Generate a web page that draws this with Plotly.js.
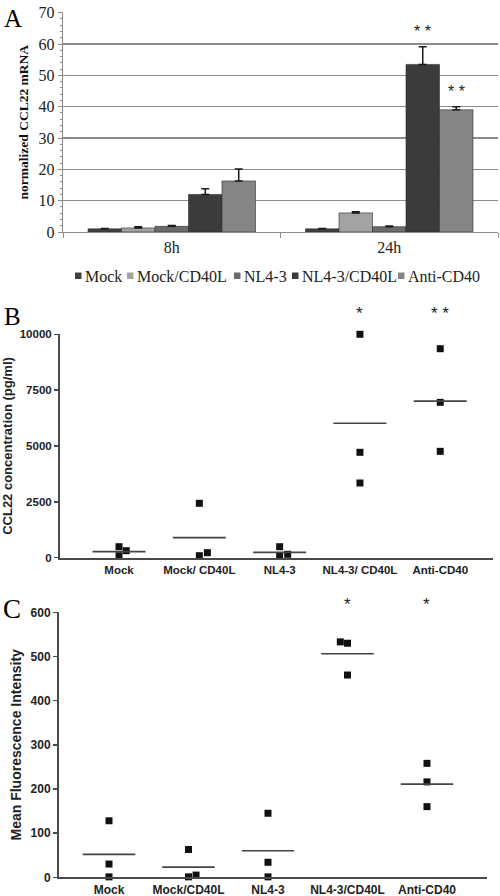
<!DOCTYPE html>
<html>
<head>
<meta charset="utf-8">
<script src="https://cdn.plot.ly/plotly-3.0.1.min.js"></script>
<style>html,body{margin:0;padding:0;background:#fff;}#chart{width:500px;height:896px;}</style>
</head>
<body>
<div id="chart"></div>
<script>
// ---------- DATA ----------
const groups = ['Mock', 'Mock/CD40L', 'NL4-3', 'NL4-3/CD40L', 'Anti-CD40'];
const timepoints = ['8h', '24h'];

// Panel A: normalized CCL22 mRNA (mean, +error) per group at 8h and 24h
const mrna8h  = [1.0, 1.3, 1.8, 12.0, 16.3];
const err8h   = [0.15, 0.4, 0.3, 1.8, 3.8];
const mrna24h = [1.0, 6.1, 1.7, 53.5, 39.0];
const err24h  = [0.1, 0.4, 0.2, 5.6, 1.0];
const sig24h  = ['', '', '', '**', '**'];

// Panel B: CCL22 concentration (pg/ml), three donors per group, plus mean line
const ccl22Points = [
  [492, 90, 313],
  [2435, 90, 224],
  [492, 76, 152],
  [10000, 4718, 3344],
  [9355, 6955, 4762]
];
const ccl22Means = [270, 900, 240, 6015, 7010];
const ccl22Ticks = [0, 2500, 5000, 7500, 10000];
const sigB = ['', '', '', '*', '**'];

// Panel C: Mean fluorescence intensity, three donors per group, plus mean line
const mfiPoints = [
  [128, 30, 1],
  [63, 1, 5],
  [145, 34, 1],
  [533, 530, 458],
  [258, 216, 160]
];
const mfiMeans = [52, 23, 60, 506, 211];
const mfiTicks = [0, 100, 200, 300, 400, 500, 600];
const sigC = ['', '', '', '*', '*'];

// ---------- LAYOUT HELPERS ----------
const W = 500, H = 896;
const px = x => x / W;
const py = y => 1 - y / H;

const barColors = ['#404040', '#a3a3a3', '#6b6b6b', '#3b3b3b', '#858585'];
const serif = 'Liberation Serif, Times New Roman, serif';
const sans = 'Liberation Sans, Arial, sans-serif';
const bold = s => '<b>' + s + '</b>';

// small horizontal jitter of overlapping dots (fraction of category spacing)
const jitterB = [[0, 0, 0.09], [0, 0, 0.1], [0, 0, 0.1], [0, 0, 0], [0, 0, 0]];
const jitterC = [[0, 0, 0], [0, 0, 0.095], [0, 0, 0], [-0.09, 0, 0], [0, 0, 0]];

const traces = [];
// Panel A bars
groups.forEach((g, i) => {
  traces.push({
    type: 'bar', name: g, x: timepoints, y: [mrna8h[i], mrna24h[i]],
    xaxis: 'x', yaxis: 'y',
    marker: {color: barColors[i], line: {color: '#2e2e2e', width: 0.6}},
    error_y: {type: 'data', symmetric: false, array: [err8h[i], err24h[i]], arrayminus: [0, 0],
              color: '#1a1a1a', thickness: 1.5, width: 4},
    showlegend: false, cliponaxis: false
  });
});

function dotTraces(points, means, jitter, xa, ya) {
  const xs = [], ys = [];
  points.forEach((pts, i) => pts.forEach((v, k) => { xs.push(i + jitter[i][k]); ys.push(v); }));
  traces.push({type: 'scatter', mode: 'markers', x: xs, y: ys, xaxis: xa, yaxis: ya,
    marker: {symbol: 'square', size: 7, color: '#111'}, showlegend: false, cliponaxis: false});
  const lx = [], ly = [];
  means.forEach((m, i) => { lx.push(i - 0.33, i + 0.33, null); ly.push(m, m, null); });
  traces.push({type: 'scatter', mode: 'lines', x: lx, y: ly, xaxis: xa, yaxis: ya,
    line: {color: '#444', width: 1.6}, showlegend: false, cliponaxis: false});
}
dotTraces(ccl22Points, ccl22Means, jitterB, 'x2', 'y2');
dotTraces(mfiPoints, mfiMeans, jitterC, 'x3', 'y3');

// ---------- ANNOTATIONS ----------
const ann = [];
ann.push({xref: 'paper', yref: 'paper', x: px(2), y: py(3), xanchor: 'left', yanchor: 'top',
  text: 'A', showarrow: false, font: {family: serif, size: 25, color: '#000'}});
ann.push({xref: 'paper', yref: 'paper', x: px(2), y: py(301), xanchor: 'left', yanchor: 'top',
  text: 'B', showarrow: false, font: {family: serif, size: 25, color: '#000'}});
ann.push({xref: 'paper', yref: 'paper', x: px(1), y: py(592), xanchor: 'left', yanchor: 'top',
  text: 'C', showarrow: false, font: {family: serif, size: 27, color: '#000'}});

// significance stars
sig24h.forEach((s, i) => {
  if (!s) return;
  const off = (i - 2) * 0.154;
  ann.push({xref: 'x', yref: 'y', x: 1 + off, y: mrna24h[i] + err24h[i] + 5, yanchor: 'middle',
    text: s.split('').join(' '), showarrow: false, font: {family: sans, size: 16, color: '#222'}});
});
sigB.forEach((s, i) => {
  if (!s) return;
  ann.push({xref: 'x2', yref: 'paper', x: i, y: py(313), yanchor: 'middle',
    text: s.split('').join(' '), showarrow: false, font: {family: sans, size: 17, color: '#222'}});
});
sigC.forEach((s, i) => {
  if (!s) return;
  ann.push({xref: 'x3', yref: 'paper', x: i, y: py(604), yanchor: 'middle',
    text: s, showarrow: false, font: {family: sans, size: 17, color: '#222'}});
});

// legend for panel A (squares + labels)
const legX = [75, 127, 234, 292, 398];
const shapes = [];
groups.forEach((g, i) => {
  shapes.push({type: 'rect', xref: 'paper', yref: 'paper', x0: px(legX[i]), x1: px(legX[i] + 6.5),
    y0: py(279), y1: py(272.5), fillcolor: barColors[i], line: {width: 0}});
  ann.push({xref: 'paper', yref: 'paper', x: px(legX[i] + 7.5), y: py(276), xanchor: 'left', yanchor: 'middle',
    text: g, showarrow: false, font: {family: serif, size: 16, color: '#222'}});
});

// ---------- LAYOUT ----------
const gridGray = '#8c8c8c';
const axisDark = '#4a4a4a';
const layout = {
  width: W, height: H, margin: {l: 0, r: 0, t: 0, b: 0},
  paper_bgcolor: '#fff', plot_bgcolor: 'rgba(0,0,0,0)',
  barmode: 'group', bargap: 0.23, bargroupgap: 0,
  showlegend: false,
  xaxis: {domain: [px(63), px(498)], anchor: 'y', type: 'category', range: [-0.5, 1.5],
    showline: true, linecolor: gridGray, linewidth: 1.3, showgrid: false,
    tickson: 'boundaries', ticks: 'outside', ticklen: 5, tickcolor: gridGray,
    tickfont: {family: serif, size: 16, color: '#222'}, automargin: false},
  yaxis: {domain: [py(232), py(12.4)], anchor: 'x', range: [0, 70.1], tickvals: [0, 10, 20, 30, 40, 50, 60, 70],
    showline: true, linecolor: gridGray, linewidth: 1.3, showgrid: true, gridcolor: gridGray, gridwidth: 1.3,
    zeroline: false, ticks: 'outside', ticklen: 4, tickcolor: gridGray,
    minor: {dtick: 2, ticks: 'outside', ticklen: 2, tickcolor: gridGray, showgrid: false},
    tickfont: {family: serif, size: 16, color: '#222'}, automargin: false,
    title: {text: bold('normalized CCL22 mRNA'), font: {family: serif, size: 13.5, color: '#111'}, standoff: 6}},
  xaxis2: {domain: [px(60), px(493)], anchor: 'y2', range: [-0.735, 4.657],
    tickvals: [0, 1, 2, 3, 4], ticktext: groups.map(g => bold(g.replace('/', '/ '))),
    showline: true, linecolor: axisDark, linewidth: 2, showgrid: false, zeroline: false, ticks: '',
    tickfont: {family: sans, size: 11.5, color: '#222'}, automargin: false},
  yaxis2: {domain: [py(557.7), py(334.3)], anchor: 'x2', range: [0, 10000],
    tickvals: ccl22Ticks, ticktext: ccl22Ticks.map(v => bold(String(v))),
    showline: true, linecolor: axisDark, linewidth: 2, showgrid: false, zeroline: false,
    ticks: 'outside', ticklen: 4, tickwidth: 1.5, tickcolor: axisDark,
    tickfont: {family: sans, size: 11.5, color: '#222'}, automargin: false,
    title: {text: bold('CCL22 concentration (pg/ml)'), font: {family: sans, size: 13, color: '#222'}, standoff: 6}},
  xaxis3: {domain: [px(59), px(487)], anchor: 'y3', range: [-0.629, 4.755],
    tickvals: [0, 1, 2, 3, 4], ticktext: groups.map(bold),
    showline: true, linecolor: axisDark, linewidth: 2, showgrid: false, zeroline: false, ticks: '',
    tickfont: {family: sans, size: 12, color: '#222'}, automargin: false},
  yaxis3: {domain: [py(877.3), py(612.3)], anchor: 'x3', range: [0, 600],
    tickvals: mfiTicks, ticktext: mfiTicks.map(v => bold(String(v))),
    showline: true, linecolor: axisDark, linewidth: 2, showgrid: false, zeroline: false,
    ticks: 'outside', ticklen: 4, tickwidth: 1.5, tickcolor: axisDark,
    tickfont: {family: sans, size: 12, color: '#222'}, automargin: false,
    title: {text: bold('Mean Fluorescence Intensity'), font: {family: sans, size: 14, color: '#222'}, standoff: 6}},
  annotations: ann,
  shapes: shapes
};

Plotly.newPlot('chart', traces, layout, {staticPlot: true, displayModeBar: false});
</script>
</body>
</html>
